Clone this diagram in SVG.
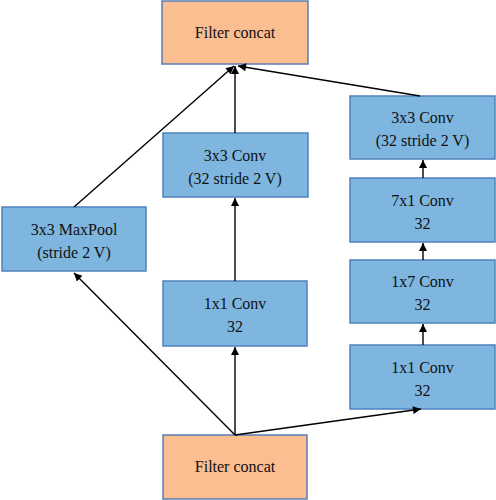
<svg xmlns="http://www.w3.org/2000/svg" width="496" height="500" viewBox="0 0 496 500">
<defs>
<style>
.b{fill:#7EB6DF;stroke:#4F81BD;stroke-width:1.5}
.o{fill:#FBBE91;stroke:#5A7DB8;stroke-width:1.5}
.t{font-family:'Liberation Serif','DejaVu Serif',serif;font-size:16px;fill:#111;text-anchor:middle}
.c line{stroke:#000;stroke-width:1.4;marker-end:url(#ah)}
</style>
<marker id="ah" viewBox="0 0 10 10" refX="10" refY="5" markerWidth="9" markerHeight="8" markerUnits="userSpaceOnUse" orient="auto">
<path d="M0,0 L10,5 L0,10 z" fill="#000"/>
</marker>
</defs>
<g id="concat_top"><rect class="o" x="162" y="1" width="146" height="63"/><text class="t" x="235" y="38">Filter concat</text></g>
<g id="maxpool"><rect class="b" x="2" y="207" width="144" height="64"/><text class="t" x="74" y="235">3x3 MaxPool</text><text class="t" x="74" y="258">(stride 2 V)</text></g>
<g id="conv3_mid"><rect class="b" x="163" y="133" width="145" height="64"/><text class="t" x="235" y="161">3x3 Conv</text><text class="t" x="235" y="184">(32 stride 2 V)</text></g>
<g id="conv1_mid"><rect class="b" x="163" y="281" width="144" height="65"/><text class="t" x="235" y="309">1x1 Conv</text><text class="t" x="235" y="332">32</text></g>
<g id="conv3_right"><rect class="b" x="350" y="96" width="145" height="63"/><text class="t" x="422.5" y="123">3x3 Conv</text><text class="t" x="422.5" y="146">(32 stride 2 V)</text></g>
<g id="conv71"><rect class="b" x="350" y="178" width="145" height="64"/><text class="t" x="422.5" y="206">7x1 Conv</text><text class="t" x="422.5" y="229">32</text></g>
<g id="conv17"><rect class="b" x="350" y="260" width="145" height="63"/><text class="t" x="422.5" y="287">1x7 Conv</text><text class="t" x="422.5" y="310">32</text></g>
<g id="conv1_right"><rect class="b" x="350" y="345" width="145" height="64"/><text class="t" x="422.5" y="373">1x1 Conv</text><text class="t" x="422.5" y="396">32</text></g>
<g id="concat_bottom"><rect class="o" x="163" y="435" width="144" height="64"/><text class="t" x="235" y="472">Filter concat</text></g>
<g class="c" id="connectors">
<line x1="74" y1="207" x2="234" y2="66"/>
<line x1="235" y1="133" x2="235" y2="66"/>
<line x1="420" y1="96" x2="238" y2="66"/>
<line x1="235" y1="435" x2="74" y2="273"/>
<line x1="235" y1="435" x2="235" y2="347"/>
<line x1="235" y1="435" x2="421" y2="409"/>
<line x1="235" y1="281" x2="235" y2="198"/>
<line x1="423" y1="345" x2="423" y2="324"/>
<line x1="423" y1="260" x2="423" y2="243"/>
<line x1="423" y1="178" x2="423" y2="160"/>
</g>
</svg>
